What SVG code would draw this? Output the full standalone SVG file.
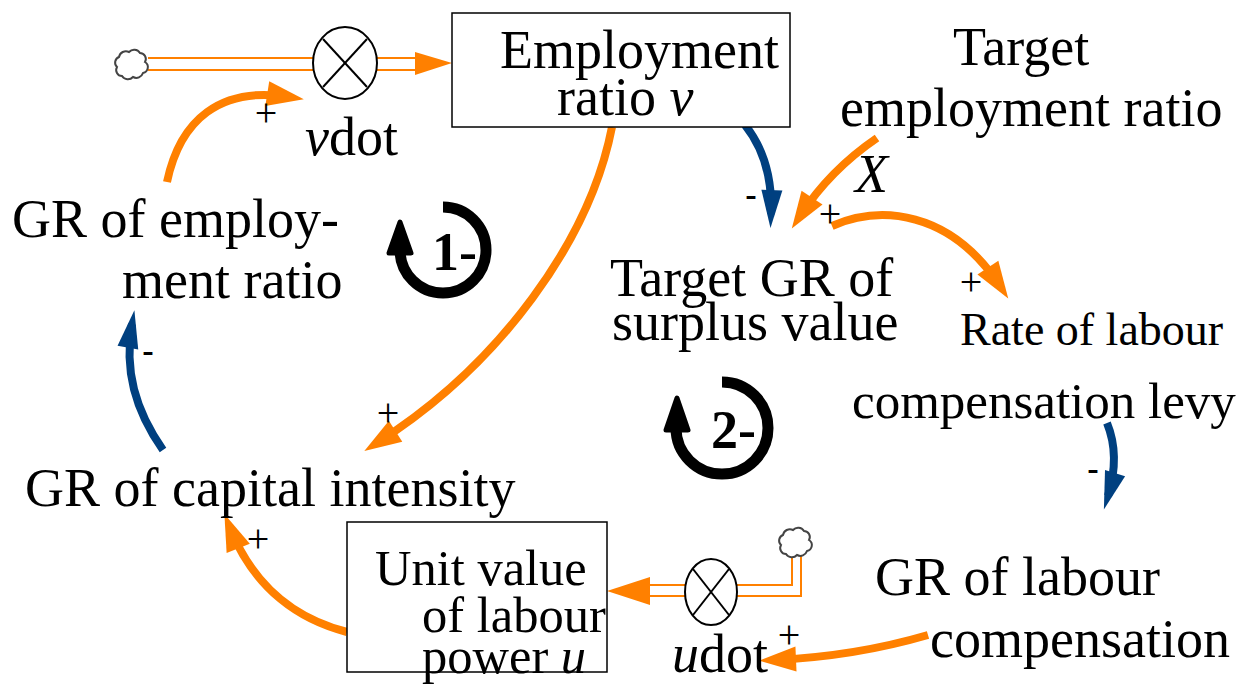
<svg xmlns="http://www.w3.org/2000/svg" width="1250" height="684" viewBox="0 0 1250 684">
<style>
.t{font-family:"Liberation Serif","Times New Roman",serif;font-size:54px;fill:#000}
.bt{font-family:"Liberation Serif","Times New Roman",serif;font-size:50.5px;fill:#000}
.p{font-family:"Liberation Serif","Times New Roman",serif;font-size:40px;fill:#000;text-anchor:middle}
.m{font-family:"Liberation Sans",Arial,sans-serif;font-size:36px;fill:#000;text-anchor:middle}
.box{fill:#fff;stroke:#000;stroke-width:1.5}
.valve{fill:#fff;stroke:#000;stroke-width:2}
.pipe{stroke:#FF8000;stroke-width:2;fill:none}
.or{stroke:#FF8000;stroke-width:8;fill:none;marker-end:url(#ho)}
.bl{stroke:#004080;stroke-width:8;fill:none;marker-end:url(#hb)}
.loop{stroke:#000;stroke-width:11;fill:none}
.lh{fill:#000;stroke:#000;stroke-width:5;stroke-linejoin:round}
.cloud{fill:#fff;stroke:#444;stroke-width:2}
.lt{font-family:"Liberation Serif","Times New Roman",serif;font-size:54px;font-weight:bold;fill:#000}
</style>
<defs>
<marker id="ho" markerUnits="userSpaceOnUse" markerWidth="40" markerHeight="28" refX="22" refY="12.5" orient="auto" overflow="visible"><path d="M0,0 L37,12.5 L0,25 z" fill="#FF8000"/></marker>
<marker id="hb" markerUnits="userSpaceOnUse" markerWidth="40" markerHeight="24" refX="24" refY="10.5" orient="auto" overflow="visible"><path d="M0,0 L38,10.5 L0,21 z" fill="#004080"/></marker>
<path id="cl" d="M-11,12 a6,6 0 0 1 -5,-9 a6,6 0 0 1 2,-10 a7,7 0 0 1 10,-5 a7,7 0 0 1 11,1 a6,6 0 0 1 5,9 a6,6 0 0 1 -2,11 a7,7 0 0 1 -10,4 a7,7 0 0 1 -11,-1 z"/>
</defs>
<rect width="1250" height="684" fill="#fff"/>

<g id="connectors">
<line class="pipe" x1="148" y1="58" x2="313" y2="58"/>
<line class="pipe" x1="148" y1="70" x2="313" y2="70"/>
<line class="pipe" x1="377" y1="58" x2="418" y2="58"/>
<line class="pipe" x1="377" y1="70" x2="418" y2="70"/>
<polygon points="415,52 452,63 415,75" fill="#FF8000"/>
<polyline class="pipe" points="792,556 792,585 737,585"/>
<polyline class="pipe" points="801,556 801,596 737,596"/>
<line class="pipe" x1="685" y1="585" x2="648" y2="585"/>
<line class="pipe" x1="685" y1="596" x2="648" y2="596"/>
<polygon points="650,577 607,591 650,605" fill="#FF8000"/>
<path class="or" d="M167 182 C180 120 220 86 289 97"/>
<path class="bl" d="M163 450 C135 410 124 370 132 324"/>
<path class="or" d="M612 127 C590 240 500 365 377 443"/>
<path class="or" d="M347 632 C300 620 255 590 230 528"/>
<path class="bl" d="M745 125 Q773 160 771 214"/>
<path class="or" d="M877 138 Q830 170 800 216"/>
<path class="or" d="M832 226 C880 205 950 210 1000 286"/>
<path class="bl" d="M1107 423 C1116 445 1116 470 1108 496"/>
<path class="or" d="M928 635 C870 652 820 658 774 660"/>
<text class="p" x="266" y="126">+</text>
<text class="m" x="148" y="363">-</text>
<text class="p" x="388" y="426">+</text>
<text class="p" x="258" y="552">+</text>
<text class="m" x="751" y="207">-</text>
<text class="p" x="830" y="227">+</text>
<text class="p" x="971" y="295">+</text>
<text class="m" x="1093" y="481">-</text>
<text class="p" x="789" y="648">+</text>
</g>

<g id="cloud-top"><use href="#cl" class="cloud" x="133" y="64"/></g>
<g id="cloud-bottom"><use href="#cl" class="cloud" x="797" y="542"/></g>

<g id="vdot">
<ellipse class="valve" cx="345" cy="63" rx="32" ry="36"/>
<line x1="323" y1="39" x2="367" y2="87" stroke="#000" stroke-width="2"/>
<line x1="367" y1="39" x2="323" y2="87" stroke="#000" stroke-width="2"/>
<text class="t" x="305" y="155"><tspan font-style="italic">v</tspan>dot</text>
</g>

<g id="udot">
<ellipse class="valve" cx="711" cy="592" rx="26" ry="33"/>
<line x1="693" y1="569" x2="729" y2="615" stroke="#000" stroke-width="2"/>
<line x1="729" y1="569" x2="693" y2="615" stroke="#000" stroke-width="2"/>
<text class="t" x="672" y="672"><tspan font-style="italic">u</tspan>dot</text>
</g>

<g id="employment-ratio">
<rect class="box" x="452" y="13" width="338" height="114"/>
<text class="t" x="500" y="68">Employment</text>
<text class="t" x="557" y="115">ratio <tspan font-style="italic">v</tspan></text>
</g>

<g id="unit-value">
<rect class="box" x="347" y="522" width="260" height="150"/>
<text class="bt" x="375" y="585">Unit value</text>
<text class="bt" x="422" y="632">of labour</text>
<text class="bt" x="422" y="673">power <tspan font-style="italic">u</tspan></text>
</g>

<g id="target-employment">
<text class="t" x="953" y="65">Target</text>
<text class="t" x="840" y="126">employment ratio</text>
<text class="t" x="855" y="192" font-style="italic">X</text>
</g>

<g id="gr-employment">
<text class="t" x="12" y="237">GR of employ-</text>
<text class="t" x="122" y="298">ment ratio</text>
</g>

<g id="target-gr">
<text class="t" x="610" y="296">Target GR of</text>
<text class="t" x="612" y="340">surplus value</text>
</g>

<g id="rate-levy">
<text class="t" x="960" y="345" style="font-size:46px">Rate of labour</text>
<text class="t" x="852" y="418" style="font-size:51px">compensation levy</text>
</g>

<g id="gr-capital">
<text class="t" x="25" y="506">GR of capital intensity</text>
</g>

<g id="gr-labour">
<text class="t" x="875" y="595">GR of labour</text>
<text class="t" x="930" y="657">compensation</text>
</g>

<g id="loop1">
<path class="loop" d="M443 207 A43 43 0 1 1 400 250"/>
<polygon class="lh" points="400,222 411,253 389,253"/>
<text class="lt" x="432" y="270">1-</text>
</g>

<g id="loop2">
<path class="loop" d="M722 382 A46 46 0 1 1 676 428"/>
<polygon class="lh" points="677,398 688,430 666,430"/>
<text class="lt" x="711" y="448">2-</text>
</g>
</svg>
